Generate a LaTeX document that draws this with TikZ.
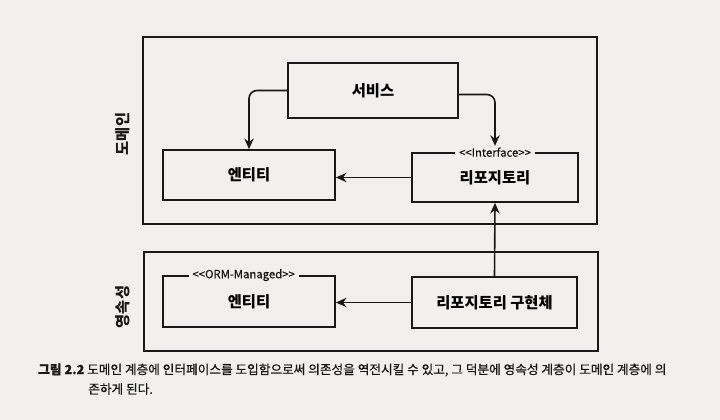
\documentclass[tikz,border=0pt]{standalone}
\usepackage{fontspec}
\setmainfont{Noto Sans CJK KR}
\newfontfamily\medfont{Noto Sans CJK KR}[FakeBold=0.6]
\usetikzlibrary{arrows.meta}
\definecolor{bg}{RGB}{241,240,238}
\definecolor{ink}{RGB}{25,25,25}
\begin{document}
\begin{tikzpicture}[x=0.75pt,y=-0.75pt,
  box/.style={draw=ink,line width=1.25pt,minimum width=#1,minimum height=37.5pt,inner sep=0pt,font=\bfseries\fontsize{11.5}{13}\selectfont},
  frame/.style={draw=ink,line width=1.25pt},
  arr/.style={draw=ink,line width=1.2pt,-{Stealth[length=8pt,width=7pt]}},
  tag/.style={fill=bg,inner xsep=3pt,inner ysep=1pt,font=\medfont\fontsize{8.5}{10}\selectfont,text=ink},
  layer/.style={rotate=90,font=\bfseries\fontsize{11.5}{13}\selectfont,text=ink},
  captext/.style={anchor=west,inner sep=0pt,text=ink,font=\medfont\fontsize{9.5}{11}\selectfont}]
\fill[bg] (0,0) rectangle (720,420);
\useasboundingbox (0,0) rectangle (720,420);
\draw[frame] (143,37) rectangle (597,224);
\draw[frame] (144,252) rectangle (598,351);
\node[layer] (dom) at (123,134) {도메인};
\node[layer] (per) at (123,307) {영속성};
\node[box=127.5pt,minimum height=41.25pt] (svc) at (373,90.5) {서비스};
\node[box=129pt] (ent1) at (249,175) {엔티티};
\node[box=124.5pt,minimum height=36.75pt] (repo) at (495,177.5) {리포지토리};
\node[tag] (itf) at (repo.north) {<\kern0pt<Interface>\kern0pt>};
\node[box=129pt,minimum height=38.25pt] (ent2) at (249,301.5) {엔티티};
\node[tag] (orm) at ([xshift=-4]ent2.north) {<\kern0pt<ORM-Managed>\kern0pt>};
\node[box=123.75pt,minimum height=38.25pt] (impl) at (494.5,302.5) {리포지토리 구현체};
\draw[arr,rounded corners=6pt] (svc.west) -| (ent1.north);
\draw[arr,rounded corners=6pt] ([yshift=-3pt]svc.east) -| (itf.north);
\draw[arr] (repo.west) -- (repo.west -| ent1.east);
\draw[arr] (impl.north) -- (repo.south);
\draw[arr] (impl.west) -- (impl.west -| ent2.east);
\node[captext] (cap1) at (38,370) {{\bfseries 그림 2.2} 도메인 계층에 인터페이스를 도입함으로써 의존성을 역전시킬 수 있고, 그 덕분에 영속성 계층이 도메인 계층에 의};
\node[captext] (cap2) at (88,389) {존하게 된다.};
\end{tikzpicture}
\end{document}
